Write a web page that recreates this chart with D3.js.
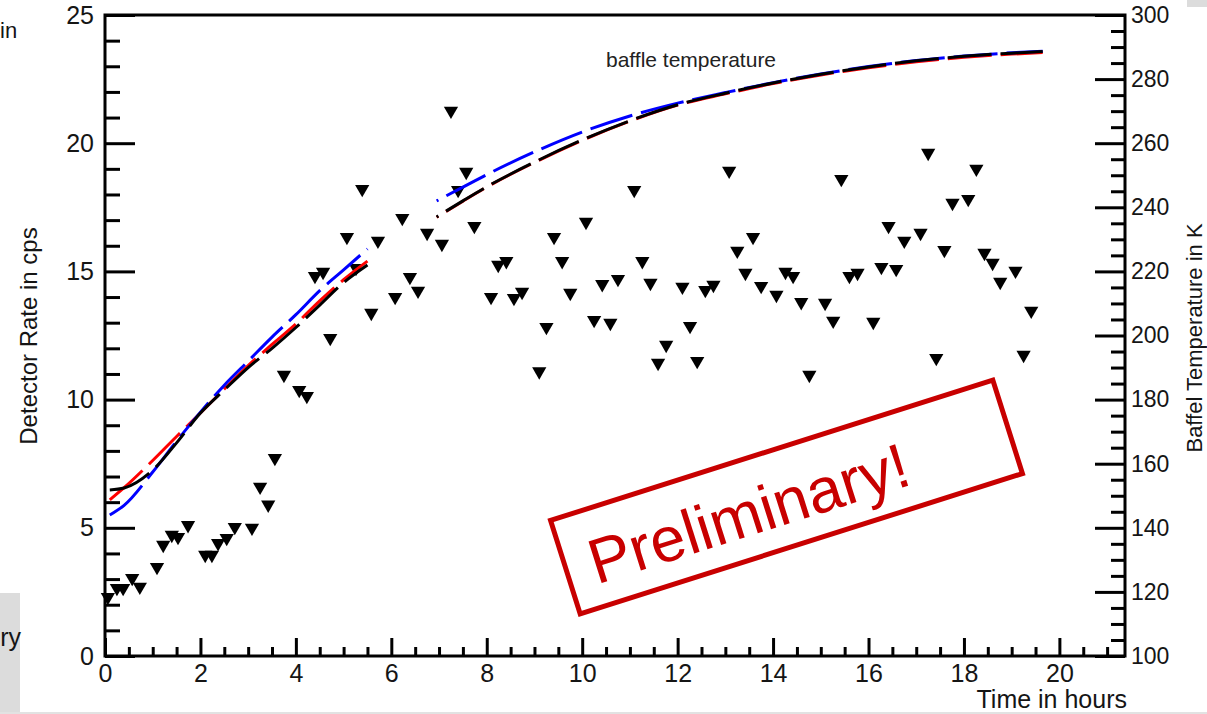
<!DOCTYPE html>
<html>
<head>
<meta charset="utf-8">
<script src="https://cdn.jsdelivr.net/npm/d3@7"></script>
<style>
  html, body { margin: 0; padding: 0; background: #fff; }
  svg { display: block; }
  text { font-family: "Liberation Sans", Arial, Helvetica, sans-serif; }
</style>
</head>
<body>
<svg id="chart" width="1207" height="714"></svg>
<script>
// ---------------- data ----------------
const timeHours = [0.06,0.25,0.38,0.57,0.73,1.09,1.22,1.40,1.53,1.74,2.10,2.24,2.37,2.55,2.72,3.08,3.25,3.42,
  3.56,3.75,4.07,4.23,4.40,4.57,4.72,5.07,5.26,5.39,5.58,5.72,6.08,6.23,6.39,6.56,6.75,7.06,7.25,7.40,7.57,7.74,
  8.09,8.24,8.41,8.57,8.74,9.10,9.25,9.41,9.58,9.75,10.08,10.25,10.42,10.59,10.75,11.09,11.26,11.43,11.59,11.76,
  12.10,12.26,12.41,12.58,12.75,13.08,13.25,13.42,13.58,13.75,14.07,14.26,14.42,14.59,14.76,15.09,15.26,15.43,15.60,15.77,
  16.10,16.27,16.42,16.58,16.75,17.09,17.25,17.42,17.59,17.76,18.09,18.26,18.43,18.60,18.76,19.08,19.25,19.41];
const detectorRate = [2.30,2.65,2.65,3.04,2.70,3.47,4.33,4.72,4.64,5.10,3.94,3.94,4.40,4.60,5.03,5.00,6.60,5.90,
  7.72,10.96,10.37,10.14,14.82,14.98,12.40,16.34,15.13,18.21,13.38,16.19,14.00,17.08,14.78,14.24,16.50,16.07,21.26,18.17,18.88,16.77,
  14.00,15.25,15.40,13.96,14.20,11.10,12.83,16.34,15.40,14.16,16.93,13.10,14.50,12.99,14.70,18.17,15.40,14.55,11.43,12.13,
  14.40,12.87,11.50,14.27,14.47,18.92,15.80,14.94,16.34,14.43,14.08,14.98,14.82,13.80,10.96,13.77,13.07,18.60,14.82,14.94,
  13.03,15.17,16.77,15.09,16.19,16.50,19.62,11.62,15.83,17.67,17.82,19.00,15.72,15.33,14.59,15.02,11.74,13.46];

// baffle temperature curves (K), two time segments
const tempTime1 = [0.1,0.4,1.0,1.5,2.0,2.5,3.0,3.5,4.0,4.5,5.0,5.5];
const redTemp1   = [148.7,152.5,161.0,168.5,175.8,183.3,190.6,197.2,203.6,210.8,217.4,223.2];
const blueTemp1  = [144.0,147.0,157.4,167.0,176.1,184.5,192.0,199.5,206.5,214.0,220.5,227.0];
const blackTemp1 = [151.8,152.4,158.0,166.5,175.8,183.0,190.0,196.0,202.5,209.5,216.5,222.0];
const tempTime2 = [6.95,7.5,8,9,10,11,12,13,14,15,16,17,18,19,19.65];
const redTemp2   = [236.9,241.9,246.3,254.0,260.9,266.9,271.9,275.4,278.6,281.3,283.5,285.4,286.8,287.8,288.3];
const blueTemp2  = [242.0,246.3,250.2,257.3,263.5,268.5,272.5,275.8,278.9,281.6,283.9,285.8,287.2,288.2,288.7];
const blackTemp2 = [237.0,242.0,246.4,254.1,261.0,267.0,272.0,275.6,278.8,281.5,283.8,285.7,287.1,288.1,288.6];

const xMajorTicks = [0,2,4,6,8,10,12,14,16,18,20];
const xMinorTicks = d3.range(0, 21.3, 0.5).filter(v => Math.abs(v/2 - Math.round(v/2)) > 1e-6);
const yLeftMajor = [0,5,10,15,20,25];
const yLeftMinor = d3.range(0, 25, 1).filter(v => v % 5 !== 0);
const yRightMajor = [100,120,140,160,180,200,220,240,260,280,300];
const yRightMinor = d3.range(100, 300, 5).filter(v => v % 20 !== 0);

// ---------------- layout ----------------
const svg = d3.select("#chart");
const L = 105, R = 1125, T = 15, B = 656;
const x = d3.scaleLinear().domain([0, 21.375]).range([L, R]);
const yL = d3.scaleLinear().domain([0, 25]).range([B, T]);
const yR = d3.scaleLinear().domain([100, 300]).range([B, T]);
const ink = "#151515";

// slide leftovers (background pieces)
svg.append("rect").attr("x", 0).attr("y", 593).attr("width", 20).attr("height", 121).attr("fill", "#dcdcdc");
svg.append("rect").attr("x", 1187).attr("y", 0).attr("width", 20).attr("height", 7).attr("fill", "#dcdcdc");
svg.append("rect").attr("x", 0).attr("y", 712).attr("width", 1207).attr("height", 2).attr("fill", "#e2e2e2");
svg.append("text").attr("x", 0).attr("y", 38).attr("font-size", 22).attr("fill", ink).text("in");
svg.append("text").attr("x", 21).attr("y", 646).attr("text-anchor", "end").attr("font-size", 25).attr("fill", ink).text("ry");

function styleAxis(g) {
  g.select(".domain").remove();
  g.selectAll("line").attr("stroke", "#000").attr("stroke-width", 3);
  g.selectAll("text").attr("fill", ink).style("font-family", '"Liberation Sans", Arial, sans-serif');
}

// bottom axis
svg.append("g").attr("transform", `translate(0,${B})`)
  .call(d3.axisBottom(x).tickValues(xMinorTicks).tickSize(-9).tickFormat(""))
  .call(styleAxis);
svg.append("g").attr("transform", `translate(0,${B})`)
  .call(d3.axisBottom(x).tickValues(xMajorTicks).tickSize(-18).tickPadding(8).tickFormat(d3.format("d")))
  .call(styleAxis)
  .call(g => g.selectAll("text").attr("font-size", 25));

// left axis
svg.append("g").attr("transform", `translate(${L},0)`)
  .call(d3.axisLeft(yL).tickValues(yLeftMinor).tickSize(-15).tickFormat(""))
  .call(styleAxis);
svg.append("g").attr("transform", `translate(${L},0)`)
  .call(d3.axisLeft(yL).tickValues(yLeftMajor).tickSize(-30).tickPadding(11).tickFormat(d3.format("d")))
  .call(styleAxis)
  .call(g => g.selectAll("text").attr("font-size", 25));

// right axis
svg.append("g").attr("transform", `translate(${R},0)`)
  .call(d3.axisRight(yR).tickValues(yRightMinor).tickSize(-14).tickFormat(""))
  .call(styleAxis);
svg.append("g").attr("transform", `translate(${R},0)`)
  .call(d3.axisRight(yR).tickValues(yRightMajor).tickSize(-30).tickPadding(6).tickFormat(d3.format("d")))
  .call(styleAxis)
  .call(g => g.selectAll("text").attr("font-size", 23));

// frame
svg.append("rect").attr("x", L).attr("y", T).attr("width", R - L).attr("height", B - T)
  .attr("fill", "none").attr("stroke", "#000").attr("stroke-width", 3);

// axis titles
svg.append("text").attr("x", 1127).attr("y", 708).attr("text-anchor", "end")
  .attr("font-size", 25).attr("fill", ink).text("Time in hours");
svg.append("text").attr("transform", "translate(37,336) rotate(-90)").attr("text-anchor", "middle")
  .attr("font-size", 24).attr("fill", ink).text("Detector Rate in cps");
svg.append("text").attr("transform", "translate(1202,338) rotate(-90)").attr("text-anchor", "middle")
  .attr("font-size", 22).attr("fill", ink).text("Baffel Temperature in K");

// markers
const tri = d3.symbol().type(d3.symbolTriangle).size(88);
svg.append("g").selectAll("path").data(timeHours.map((t, i) => [t, detectorRate[i]]))
  .join("path")
  .attr("d", tri)
  .attr("transform", d => `translate(${x(d[0])},${yL(d[1])}) rotate(180)`)
  .attr("fill", "#000");

// temperature curves
const line = d3.line().x(d => x(d[0])).y(d => yR(d[1])).curve(d3.curveMonotoneX);
function drawCurve(times, vals, color, offset) {
  svg.append("path").datum(times.map((t, i) => [t, vals[i]]))
    .attr("d", line).attr("fill", "none").attr("stroke", color)
    .attr("stroke-width", 3).attr("stroke-dasharray", "44,9").attr("stroke-dashoffset", offset);
}
drawCurve(tempTime1, redTemp1, "#ff0000", 0);
drawCurve(tempTime1, blueTemp1, "#0000ff", 0);
drawCurve(tempTime1, blackTemp1, "#000000", 0);
drawCurve(tempTime2, redTemp2, "#ff0000", 42);
drawCurve(tempTime2, blueTemp2, "#0000ff", 42);
drawCurve(tempTime2, blackTemp2, "#000000", 42);

svg.append("text").attr("x", 606).attr("y", 67).attr("font-size", 21).attr("fill", "#222")
  .text("baffle temperature");

// preliminary stamp
const stamp = svg.append("g").attr("transform", "translate(786.5,497) rotate(-17.6)");
stamp.append("rect").attr("x", -232).attr("y", -49).attr("width", 464).attr("height", 98)
  .attr("fill", "none").attr("stroke", "#c80000").attr("stroke-width", 5);
stamp.append("text").attr("x", -41).attr("y", 26).attr("text-anchor", "middle")
  .attr("font-size", 63).attr("fill", "#c80000").text("Preliminary!");
</script>
</body>
</html>
